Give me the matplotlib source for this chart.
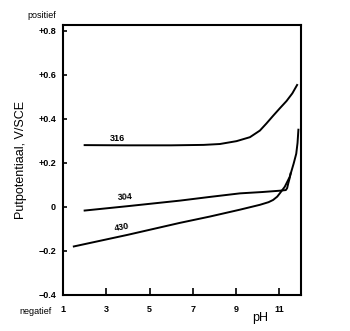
import matplotlib.pyplot as plt
import numpy as np

plt.rcParams['font.family'] = ['Liberation Sans', 'DejaVu Sans']

# putpotentiaal tegen pH voor drie roestvaste staalsoorten
ph_316 = [2.0, 4.0, 6.0, 7.5, 8.25, 9.02, 9.64, 10.1, 10.4, 10.71, 11.02, 11.33, 11.6, 11.82]
e_316 = [0.28, 0.279, 0.279, 0.281, 0.285, 0.298, 0.316, 0.346, 0.378, 0.413, 0.447, 0.48, 0.515, 0.553]

ph_304 = [2.0, 4.0, 6.4, 7.8, 9.18, 10.2, 11.02, 11.3, 11.36, 11.41, 11.47, 11.52]
e_304 = [-0.017, 0.003, 0.028, 0.045, 0.061, 0.067, 0.073, 0.076, 0.085, 0.106, 0.128, 0.151]

ph_430 = [1.5, 4.0, 6.4, 7.8, 9.18, 10.1, 10.5, 10.71, 10.9, 11.02, 11.25, 11.48,
          11.66, 11.78, 11.84, 11.88]
e_430 = [-0.18, -0.127, -0.073, -0.044, -0.013, 0.009, 0.021, 0.031, 0.046, 0.061, 0.091,
         0.136, 0.196, 0.241, 0.29, 0.35]

xticks = [1, 3, 5, 7, 9, 11]
yticks = [-0.4, -0.2, 0, 0.2, 0.4, 0.6, 0.8]
ylabels = ['\u22120.4', '\u22120.2', '0', '+0.2', '+0.4', '+0.6', '+0.8']

fig = plt.figure(figsize=(3.5, 3.31), dpi=100)
ax = fig.add_axes([0.18, 0.109, 0.68, 0.816])

for x, y in [(ph_316, e_316), (ph_304, e_304), (ph_430, e_430)]:
    ax.plot(x, y, color='black', linewidth=1.4, solid_joinstyle='round')

ax.text(3.5, 0.31, '316', fontsize=6.5, fontweight='bold', ha='center', va='center')
ax.text(3.85, 0.045, '304', fontsize=6.5, fontweight='bold', ha='center', va='center', rotation=4)
ax.text(3.7, -0.095, '430', fontsize=6.5, fontweight='bold', ha='center', va='center', rotation=10)

ax.set_xlim(1, 12)
ax.set_ylim(-0.4, 0.826)
ax.set_xticks(xticks)
ax.set_xticklabels([str(t) for t in xticks])
ax.set_yticks(yticks)
ax.set_yticklabels(ylabels)
ax.tick_params(axis='both', direction='in', width=1.2, labelsize=6.5)
ax.tick_params(axis='x', length=5, pad=7)
ax.tick_params(axis='y', length=3, pad=5)
for lbl in ax.get_xticklabels() + ax.get_yticklabels():
    lbl.set_fontweight('bold')
for s in ax.spines.values():
    s.set_linewidth(1.5)

ax.set_ylabel('Putpotentiaal, V/SCE', fontsize=9, labelpad=8)
fig.text(42 / 350, 1 - 16 / 331, 'positief', fontsize=6.5, ha='center', va='center')
fig.text(36 / 350, 1 - 312 / 331, 'negatief', fontsize=6.5, ha='center', va='center')
fig.text(260 / 350, 1 - 318 / 331, 'pH', fontsize=9, ha='center', va='center')

fig.savefig('out.png', dpi=100)
